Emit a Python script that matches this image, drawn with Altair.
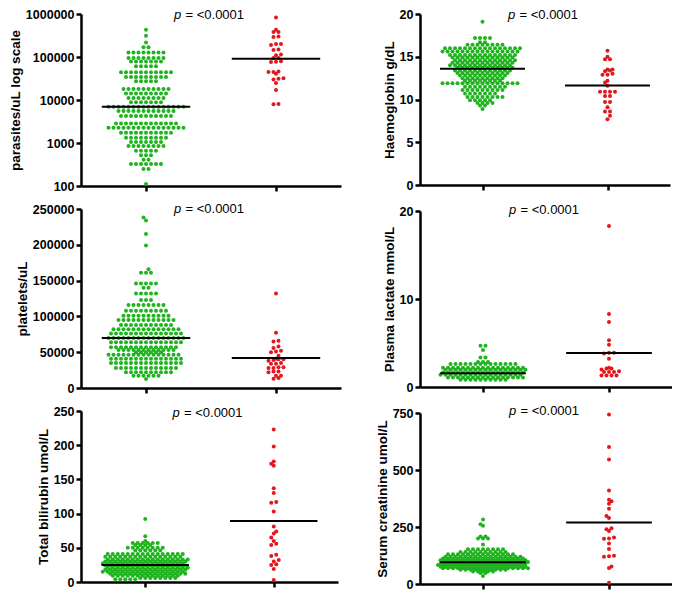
import math
import altair as alt
import pandas as pd

GREEN = "#1fb41f"
RED = "#e3171c"
FONT = "Liberation Sans"

# ---------------- data ----------------
# parasites/uL (log scale)
para_green_levels = [430000, 310000, 217000, 169000, 128000, 94400, 79000, 60600, 44000, 34400,
                     27200, 18100, 14100, 11200, 8900, 6950, 5520, 4230, 2860, 2270,
                     1740, 1330, 1060, 855, 656, 521, 406, 323, 247, 111]
para_green_counts = [1, 1, 1, 2, 8, 8, 7, 5, 11, 9,
                     5, 10, 9, 8, 7, 16, 12, 11, 13, 16,
                     11, 9, 7, 8, 5, 3, 2, 7, 2, 1]
para_red = [830000, 430000, 380000, 380000, 300000, 290000, 200000, 200000, 190000, 150000,
            145000, 115000, 110000, 95000, 95000, 80000, 78000, 77000, 46000, 45000,
            45000, 41000, 32000, 31000, 30000, 25000, 17000, 8100, 8000]
para_means = [6950, 91000]

# Haemoglobin g/dL
hb_green_levels = [19.1, 17.2, 16.7, 16.4, 16.0, 15.6, 15.2, 14.9, 14.6, 14.3, 14.0, 13.7, 13.4,
                   13.1, 12.8, 12.5, 12.2, 11.9, 11.5, 11.1, 10.7, 10.3, 9.9, 9.6, 9.3, 8.9]
hb_green_counts = [1, 4, 2, 8, 16, 16, 14, 13, 13, 13, 13, 12, 12,
                   11, 10, 9, 8, 16, 9, 9, 7, 8, 5, 4, 2, 1]
hb_red = [15.7, 15.0, 14.7, 14.7, 13.5, 13.5, 13.4, 13.3, 13.0, 12.9, 12.9, 12.2, 12.0, 11.6,
          10.9, 10.9, 10.9, 10.9, 10.4, 10.4, 9.7, 9.7, 9.1, 8.6, 8.6, 8.1, 7.7]
hb_means = [13.6, 11.65]

# platelets/uL
plt_green_levels = [238000, 234000, 215000, 199000, 166000, 161000, 146000, 140000, 132000, 123000,
                    116000, 108000, 101000, 95000, 88000, 82000, 76000, 70000, 64000, 57000,
                    53000, 50000, 46500, 41000, 35000, 28000, 22000, 17000, 12600]
plt_green_counts = [1, 1, 1, 1, 1, 3, 5, 2, 5, 3,
                    8, 9, 10, 12, 11, 14, 15, 16, 15, 14,
                    12, 6, 15, 15, 15, 13, 10, 6, 1]
plt_red = [132000, 77000, 66000, 65000, 58000, 56000, 52000, 51000, 50000, 45000,
           41000, 40000, 40000, 39000, 38000, 35000, 34000, 34000, 29000, 29000,
           28000, 28000, 23000, 23000, 22000, 17000, 17000, 14000, 13000]
plt_means = [70000, 42000]

# Plasma lactate mmol/L
lac_green_levels = [4.7, 4.2, 3.35, 2.85, 2.6, 2.2, 1.95, 1.65, 1.38, 1.08, 0.82]
lac_green_counts = [2, 1, 2, 3, 14, 17, 17, 17, 17, 16, 10]
lac_red = [18.3, 8.3, 7.4, 5.3, 4.8, 3.9, 3.9, 3.8, 3.2, 2.2, 2.1, 2.1, 2.0,
           1.8, 1.7, 1.7, 1.7, 1.3, 1.3, 1.3, 1.3]
lac_means = [1.57, 3.85]

# Total bilirubin umol/L
bil_green_levels = [92, 67, 60, 57, 54, 50, 46, 41, 37, 33, 30, 27, 24, 21, 18, 15, 12, 9, 6, 4]
bil_green_counts = [1, 1, 1, 6, 4, 8, 6, 16, 16, 17, 17, 17, 17, 17, 17, 17, 16, 14, 8, 5]
bil_red = [223, 198, 176, 173, 170, 137, 130, 117, 116, 103, 81, 74, 71, 65, 60, 56, 54,
           40, 38, 32, 30, 26, 25, 19, 3]
bil_means = [25, 89]

# Serum creatinine umol/L
cre_green_levels = [283, 262, 255, 208, 200, 173, 152, 140, 130, 120, 112, 104, 97, 90, 83,
                    76, 69, 62, 55, 48, 35]
cre_green_counts = [1, 1, 1, 2, 3, 1, 8, 10, 14, 16, 17, 18, 18, 18, 18,
                    18, 18, 10, 5, 2, 1]
cre_red = [743, 601, 546, 410, 370, 363, 352, 330, 298, 290, 244, 240, 233, 204, 200, 199,
           178, 153, 124, 122, 120, 77, 70, 5]
cre_means = [95, 270]

P_PREFIX = "p"
P_TEXT = "= <0.0001"
X_DOMAIN = [0.5, 2.5]


def expand(levels, counts):
    return [v for v, c in zip(levels, counts) for _ in range(c)]


def swarm(values, group, ypix, width, spacing=5.0, row_tol=1.5, near=4.0):
    """Prism-like dot layout: rows of nearby values centred on the group."""
    rows = []
    for v in sorted(values, key=ypix):
        y = ypix(v)
        if rows and abs(y - rows[-1]["y0"]) <= row_tol:
            rows[-1]["vals"].append(v)
        else:
            rows.append({"y0": y, "vals": [v]})
    out = []
    prev = None
    sign = 1
    for r in rows:
        n = len(r["vals"])
        phase = 0.5 if n % 2 == 0 else 0.0
        shift = 0.0
        if prev is not None and abs(r["y0"] - prev["y0"]) < near and abs(phase - prev["phase"]) < 1e-9:
            shift = 0.5 * sign
            sign = -sign
        r["phase"] = (phase + shift) % 1.0
        for i, v in enumerate(r["vals"]):
            off_px = (i - (n - 1) / 2 + shift) * spacing
            out.append((v, group + off_px * (X_DOMAIN[1] - X_DOMAIN[0]) / width))
        prev = r
    return out


def panel(green, red, means, title, ydomain, yticks, width, height, log=False, p_dy=0.0):
    if log:
        lo, hi = math.log10(ydomain[0]), math.log10(ydomain[1])
        ypix = lambda v: (math.log10(v) - lo) / (hi - lo) * height
    else:
        ypix = lambda v: (v - ydomain[0]) / (ydomain[1] - ydomain[0]) * height
    recs = []
    for v, x in swarm(green, 1, ypix, width):
        recs.append({"v": v, "x": x, "grp": "A"})
    for v, x in swarm(red, 2, ypix, width):
        recs.append({"v": v, "x": x, "grp": "B"})
    df = pd.DataFrame(recs)

    yscale = alt.Scale(type="log", domain=ydomain) if log else alt.Scale(domain=ydomain, nice=False, zero=False)
    xscale = alt.Scale(domain=X_DOMAIN, nice=False, zero=False)
    yaxis = alt.Axis(values=yticks, format="d", title=title, tickSize=5, tickWidth=2.5,
                     domainWidth=2.5, labelPadding=2, titlePadding=3, labelFontSize=12.5,
                     titleFontSize=13.5, labelFontWeight="bold", titleFontWeight="bold",
                     labelFont=FONT, titleFont=FONT, labelColor="black", titleColor="black",
                     domainColor="black", tickColor="black", grid=False, labelOverlap=False,
                     labelFlush=False)
    xaxis = alt.Axis(values=[1, 2], labels=False, title=None, tickSize=5, tickWidth=2.5,
                     domainWidth=2.5, domainColor="black", tickColor="black", grid=False)

    pts = alt.Chart(df).mark_circle(size=16, opacity=1).encode(
        x=alt.X("x:Q", scale=xscale, axis=xaxis),
        y=alt.Y("v:Q", scale=yscale, axis=yaxis),
        color=alt.Color("grp:N", scale=alt.Scale(domain=["A", "B"], range=[GREEN, RED]), legend=None),
    )
    ldf = pd.DataFrame({"x1": [1 - 0.34, 2 - 0.34], "x2": [1 + 0.34, 2 + 0.34], "v": means})
    rule = alt.Chart(ldf).mark_rule(color="black", strokeWidth=2).encode(
        x=alt.X("x1:Q", scale=xscale, axis=xaxis),
        x2="x2:Q",
        y=alt.Y("v:Q", scale=yscale, axis=yaxis),
    )
    t1 = alt.Chart(pd.DataFrame({"t": [P_PREFIX]})).mark_text(
        font=FONT, fontSize=13, fontStyle="italic", align="left", baseline="middle", color="black"
    ).encode(text="t:N", x=alt.value(width / 2 - 37), y=alt.value(p_dy))
    t2 = alt.Chart(pd.DataFrame({"t": [P_TEXT]})).mark_text(
        font=FONT, fontSize=13, align="left", baseline="middle", color="black"
    ).encode(text="t:N", x=alt.value(width / 2 - 25.5), y=alt.value(p_dy))
    return alt.layer(pts, rule, t1, t2).properties(width=width, height=height)


p1 = panel(expand(para_green_levels, para_green_counts), para_red, para_means,
           "parasites/uL log scale", [100, 1000000], [100, 1000, 10000, 100000, 1000000],
           260, 172, log=True, p_dy=1)
p2 = panel(expand(hb_green_levels, hb_green_counts), hb_red, hb_means,
           "Haemoglobin g/dL", [0, 20], [0, 5, 10, 15, 20], 250, 171, p_dy=1)
p3 = panel(expand(plt_green_levels, plt_green_counts), plt_red, plt_means,
           "platelets/uL", [0, 250000], [0, 50000, 100000, 150000, 200000, 250000],
           260, 179, p_dy=0)
p4 = panel(expand(lac_green_levels, lac_green_counts), lac_red, lac_means,
           "Plasma lactate mmol/L", [0, 20], [0, 10, 20], 252, 176, p_dy=-1.5)
p5 = panel(expand(bil_green_levels, bil_green_counts), bil_red, bil_means,
           "Total bilirubin umol/L", [0, 250], [0, 50, 100, 150, 200, 250], 257, 171, p_dy=1.5)
p6 = panel(expand(cre_green_levels, cre_green_counts), cre_red, cre_means,
           "Serum creatinine umol/L", [0, 750], [0, 250, 500, 750], 252, 171, p_dy=-2)

left = alt.vconcat(p1, p3, p5, spacing=23, bounds="flush")
right = alt.vconcat(p2, p4, p6, spacing=26, bounds="flush")
chart = alt.hconcat(left, right, spacing=34).properties(padding=0).configure_view(stroke=None)

chart.save("out.html", embed_options={"renderer": "svg", "actions": False})
